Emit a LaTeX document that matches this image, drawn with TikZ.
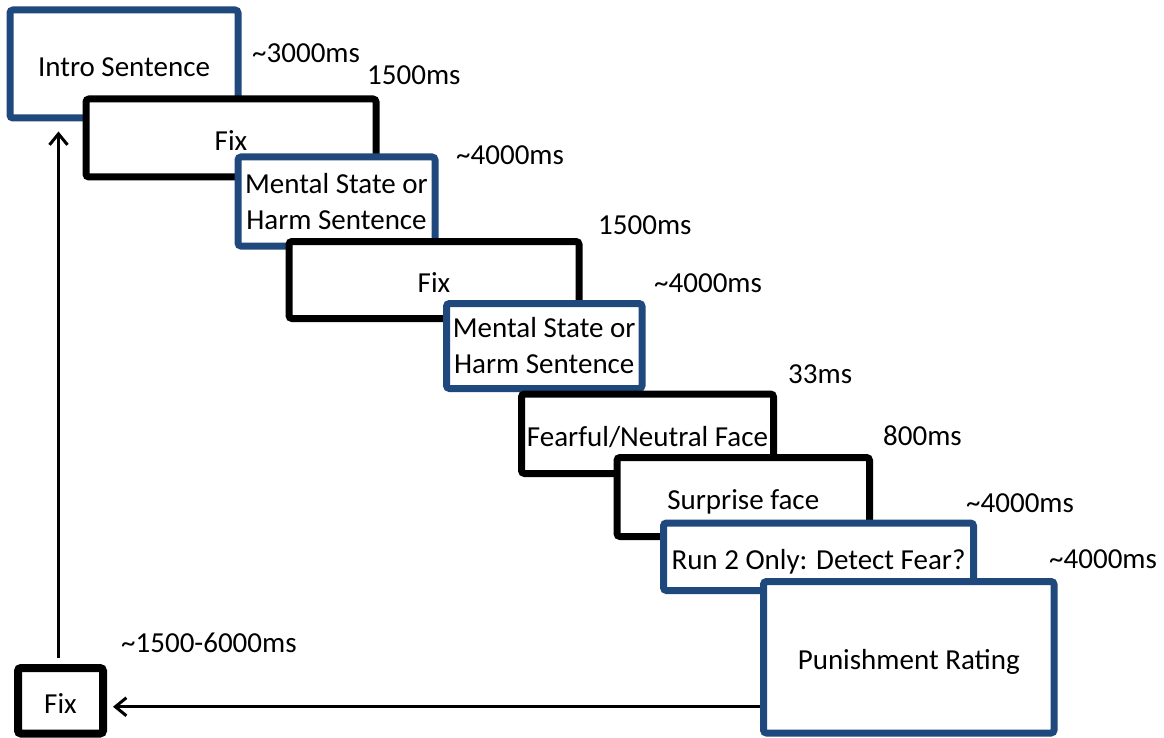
\documentclass[tikz,border=0pt]{standalone}
\usepackage{fontspec}
\setmainfont{Carlito}
\usetikzlibrary{arrows.meta}
\definecolor{boxblue}{HTML}{1F497D}
\begin{document}
\begin{tikzpicture}[x=1pt,y=-1pt,
  every node/.style={font=\fontsize{29}{36}\selectfont},
  bbox/.style={draw=boxblue, line width=7pt, fill=white, rounded corners=3pt, inner sep=0pt, align=center},
  kbox/.style={draw=black, line width=7pt, fill=white, rounded corners=3pt, inner sep=0pt, align=center},
  oneline/.style={text height=25pt, text depth=0pt},
  lbl/.style={anchor=base west, inner sep=0pt},
  arr/.style={line width=3pt, -{Straight Barb[length=11pt,width=18pt]}}]
\useasboundingbox (0,0) rectangle (1164,738);

\node[bbox, oneline, minimum width=228pt, minimum height=108pt] (intro) at (124,64) {Intro Sentence};
\node[kbox, oneline, minimum width=290pt, minimum height=78pt] (fixa) at (231,138) {Fix};
\node[bbox, minimum width=197pt, minimum height=89pt] (menta) at (336.5,201.5) {Mental State or\\Harm Sentence};
\node[kbox, oneline, minimum width=290pt, minimum height=77pt] (fixb) at (434,280) {Fix};
\node[bbox, minimum width=195.5pt, minimum height=85pt] (mentb) at (544.25,346) {Mental State or\\Harm Sentence};
\node[kbox, oneline, minimum width=252pt, minimum height=79.5pt] (fear) at (647.5,433.75) {Fearful/Neutral Face};
\node[kbox, oneline, minimum width=252.5pt, minimum height=79pt] (surp) at (743.25,497) {Surprise face};
\node[bbox, oneline, minimum width=310pt, minimum height=67.5pt] (run) at (818.5,556.75) {Run 2 Only: Detect Fear?};
\node[bbox, oneline, minimum width=290.5pt, minimum height=151.5pt] (pun) at (908.75,657.25) {Punishment Rating};
\node[kbox, oneline, line width=8pt, minimum width=85pt, minimum height=65.5pt] (fixz) at (60.5,700.75) {Fix};

\node[lbl] (t1) at (252,63) {\char`~3000ms};
\node[lbl] (t2) at (367,85) {1500ms};
\node[lbl] (t3) at (456,165) {\char`~4000ms};
\node[lbl] (t4) at (598,234) {1500ms};
\node[lbl] (t5) at (654,292) {\char`~4000ms};
\node[lbl] (t6) at (788,383) {33ms};
\node[lbl] (t7) at (883,445) {800ms};
\node[lbl] (t8) at (966,512) {\char`~4000ms};
\node[lbl] (t9) at (1049,568) {\char`~4000ms};
\node[lbl] (t10) at (121,652) {\char`~1500-6000ms};

\draw[arr] ([xshift=-2pt,yshift=6pt]fixz.north) -- ([xshift=-2pt,yshift=-10pt]fixz.north |- intro.south);
\draw[arr, shorten >=6pt] ([yshift=-49.5pt]pun.west) -- ([yshift=-49.5pt]pun.west -| fixz.east);
\end{tikzpicture}
\end{document}
